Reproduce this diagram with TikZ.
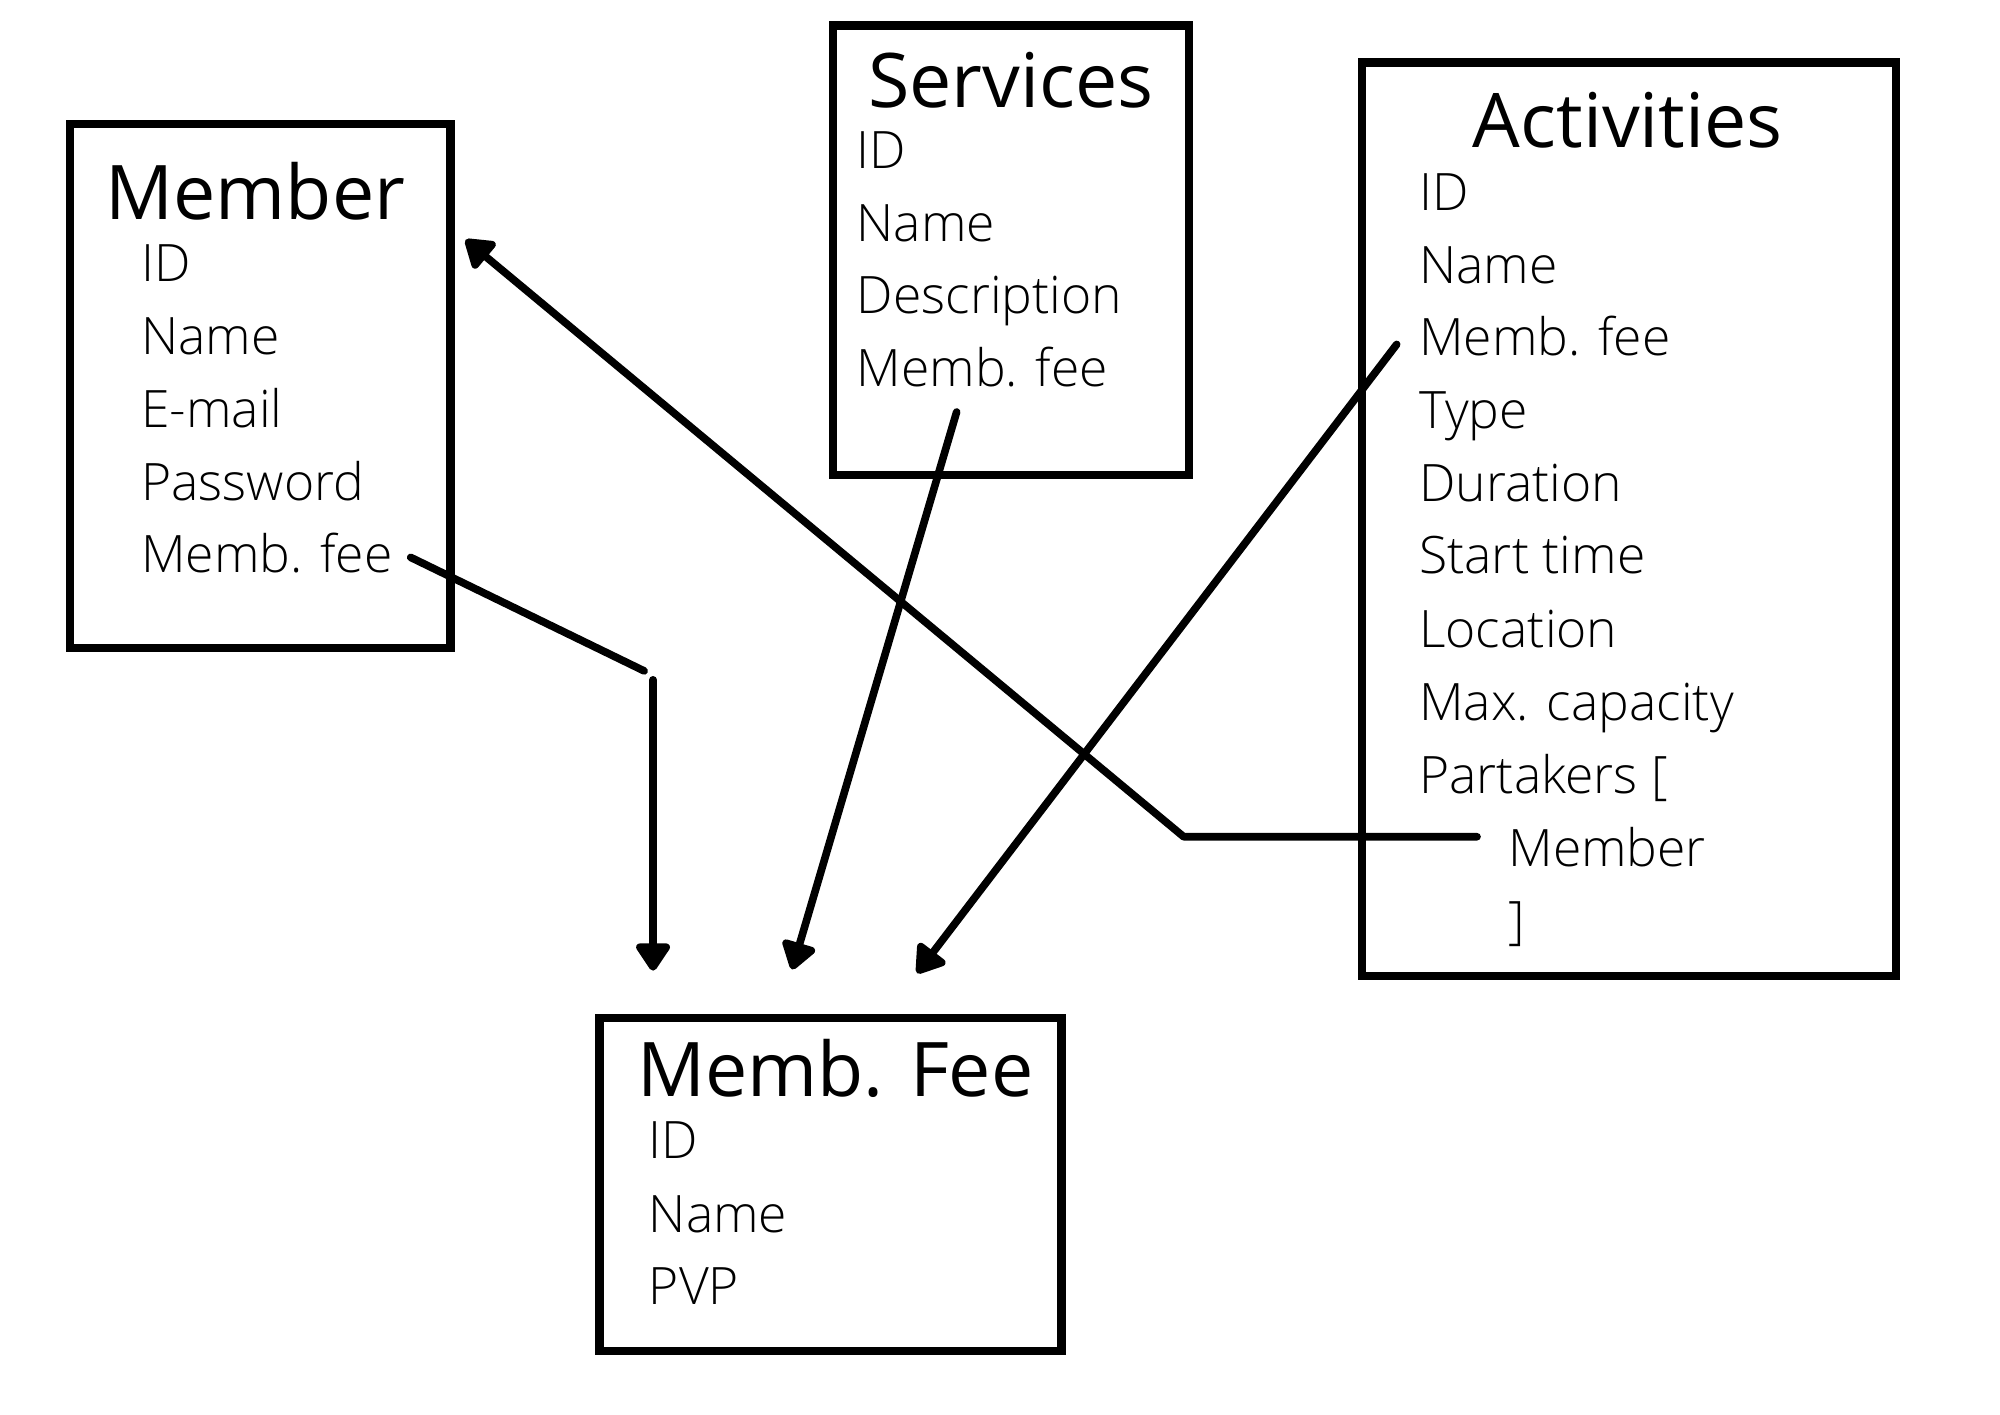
\documentclass[tikz,border=0pt]{standalone}
\usepackage{fontspec}
\setmainfont{Open Sans}
\newfontfamily\lightfont{Open Sans Light}
\usetikzlibrary{arrows.meta}
\begin{document}
\begin{tikzpicture}[x=0.01cm,y=-0.01cm,
  boxline/.style={draw, line width=1.8pt, line cap=round, inner sep=0pt, outer sep=0pt, anchor=north west},
  title/.style={anchor=base west, inner sep=0pt, font=\fontsize{16.8}{20}\selectfont},
  item/.style={anchor=base west, inner sep=0pt, font=\lightfont\fontsize{11.5}{14}\selectfont},
  conn/.style={line width=1.7pt, line cap=round, line join=round},
  arr/.style={conn, -{Triangle[length=0.24cm,width=0.3cm,round]}}]
\useasboundingbox (0,0) rectangle (1568,1109);
\fill[white] (0,0) rectangle (1568,1109);

% boxes
\node[boxline, minimum width=2.98cm, minimum height=4.11cm] (member) at (55,97) {};
\node[boxline, minimum width=2.79cm, minimum height=3.52cm] (services) at (653,20) {};
\node[boxline, minimum width=4.18cm, minimum height=7.16cm] (activities) at (1068,49) {};
\node[boxline, minimum width=3.62cm, minimum height=2.61cm] (fee) at (470,798) {};

% Member
\node[title] (tm) at (82,172) {Member};
\node[item] (m1) at (110,221) {ID};
\node[item] (m2) at (110,278) {Name};
\node[item] (m3) at (110,335) {E-mail};
\node[item] (m4) at (110,392) {Password};
\node[item] (m5) at (110,449) {Memb. fee};

% Services
\node[title] (ts) at (680,84) {Services};
\node[item] (s1) at (671,132) {ID};
\node[item] (s2) at (671,189) {Name};
\node[item] (s3) at (671,246) {Description};
\node[item] (s4) at (671,303) {Memb. fee};

% Activities
\node[title] (ta) at (1154,116) {Activities};
\node[item] (a1) at (1112,165) {ID};
\node[item] (a2) at (1112,222) {Name};
\node[item] (a3) at (1112,279) {Memb. fee};
\node[item] (a4) at (1112,336) {Type};
\node[item] (a5) at (1112,393) {Duration};
\node[item] (a6) at (1112,450) {Start time};
\node[item] (a7) at (1112,508) {Location};
\node[item] (a8) at (1112,565) {Max. capacity};
\node[item] (a9) at (1112,622) {Partakers [};
\node[item] (a10) at (1182,679) {Member};
\node[item] (a11) at (1182,736) {]};

% Memb. Fee
\node[title] (tf) at (499,860) {Memb. Fee};
\node[item] (f1) at (508,908) {ID};
\node[item] (f2) at (508,966) {Name};
\node[item] (f3) at (508,1023) {PVP};

% connector end points
\coordinate (c1s) at (322,437);
\coordinate (c1m) at (505,526);
\coordinate (c1v) at (512,533);
\coordinate (c1e) at (512,761);
\coordinate (c2s) at (750,323);
\coordinate (c2e) at (621,760);
\coordinate (c3s) at (1095,270);
\coordinate (c3e) at (719,763);
\coordinate (c4s) at (1158,656);
\coordinate (c4m) at (928,656);
\coordinate (c4e) at (365,188);

\draw[conn] (c1s) -- (c1m);
\draw[arr] (c1v) -- (c1e);
\draw[arr] (c2s) -- (c2e);
\draw[arr] (c3s) -- (c3e);
\draw[arr] (c4s) -- (c4m) -- (c4e);
\end{tikzpicture}
\end{document}
